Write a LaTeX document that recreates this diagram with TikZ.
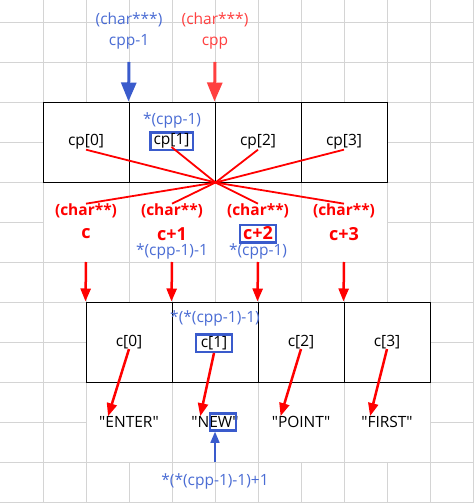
\documentclass[tikz,border=0pt]{standalone}
\usepackage{fontspec}
\setmainfont{Open Sans}
\usetikzlibrary{arrows.meta}
\definecolor{gridgray}{RGB}{212,212,212}
\definecolor{ptrblue}{RGB}{74,108,212}
\definecolor{boxblue}{RGB}{58,91,204}
\definecolor{lightred}{RGB}{255,64,64}

\begin{document}
\begin{tikzpicture}[
      x=1pt, y=-1pt,
      every node/.style={inner sep=0pt, font=\fontsize{15.5}{21}\selectfont},
      gridline/.style={draw=gridgray, line width=0.8pt},
      merged/.style={draw=gridgray, line width=0.8pt, fill=white},
      cell/.style={draw=black, line width=1pt, fill=white, minimum width=86pt, minimum height=80pt},
      bluetext/.style={text=ptrblue},
      redtext/.style={text=red, font=\fontsize{15.5}{21}\selectfont\bfseries},
      valtext/.style={text=red, font=\fontsize{18}{21}\selectfont\bfseries},
      hl/.style={draw=boxblue, line width=2.5pt, minimum height=17.5pt},
      link/.style={draw=red, line width=1.8pt},
      redarrow/.style={draw=red, fill=red, line width=2.5pt, -{Triangle[width=10pt,length=13pt]}},
      bigarrow/.style={line width=3pt, -{Triangle[width=15pt,length=19pt]}},
      blueptr/.style={draw=boxblue, fill=boxblue, line width=1.5pt, -{Triangle[width=9pt,length=11pt]}}
    ]
    \useasboundingbox (0,0) rectangle (474,503);
    \fill[white] (0,0) rectangle (474,503);
    % sheet grid
    \foreach \x in {43,86,...,473} \draw[gridline] (\x,0) -- (\x,503);
    \foreach \y in {22,62,...,502} \draw[gridline] (0,\y) -- (474,\y);
    \foreach \x in {43,129,215,301} \draw[merged] (\x,182) rectangle +(86,80);
    \foreach \x in {86,172,258,344} \draw[merged] (\x,382) rectangle +(86,80);

    % cp array
    \node[cell] (a0) at (86,142) {};
    \node[cell] (a1) at (172,142) {};
    \node[cell] (a2) at (258,142) {};
    \node[cell] (a3) at (344,142) {};
    \node (cp0) at (a0) {cp[0]};
    \node[hl, minimum width=42.5pt] (cp1) at (171.5,141) {cp[1]};
    \node (cp2) at (a2) {cp[2]};
    \node (cp3) at (a3) {cp[3]};
    \node[bluetext] (d1) at (172,120) {*(cpp-1)};

    % pointers into cp
    \node[bluetext, align=center] (cpm1) at (129,31) {(char***)\\cpp-1};
    \node[text=lightred, align=center] (cpp) at (215,31) {(char***)\\cpp};
    \coordinate (q1) at (129,62);
    \coordinate (q2) at (215,62);
    \draw[bigarrow, draw=boxblue, fill=boxblue] (q1) -- (a1.north west);
    \draw[bigarrow, draw=lightred, fill=lightred] (q2) -- (a2.north west);

    % c+i labels
    \node[redtext] (t0) at (86,211) {(char**)};
    \node[redtext] (t1) at (172,211) {(char**)};
    \node[redtext] (t2) at (258,211) {(char**)};
    \node[redtext] (t3) at (344,211) {(char**)};
    \node[valtext] (v0) at (86,234) {c};
    \node[valtext] (v1) at (172,234) {c+1};
    \node[valtext, hl, minimum width=36pt] (v2) at (258,233.5) {c+2};
    \node[valtext] (v3) at (344,234) {c+3};
    \node[bluetext] (e1) at (172,251) {*(cpp-1)-1};
    \node[bluetext] (e2) at (258,251) {*(cpp-1)};
    \foreach \n in {cp0,cp2,cp3} \draw[link] (a1.south east) -- (\n.south);
    \draw[link] (a1.south east) -- ([yshift=4pt]cp1.south);
    \foreach \n in {t0,t1,t2,t3} \draw[link] (a1.south east) -- (\n.north);

    % c array
    \node[cell] (b0) at (129,342) {};
    \node[cell] (b1) at (215,342) {};
    \node[cell] (b2) at (301,342) {};
    \node[cell] (b3) at (387,342) {};
    \node (c0) at (b0) {c[0]};
    \node[hl, minimum width=36pt] (c1) at (214,343) {c[1]};
    \node (c2) at (b2) {c[2]};
    \node (c3) at (b3) {c[3]};
    \node[bluetext] (d2) at (215,318) {*(*(cpp-1)-1)};
    \foreach \i/\x in {0/86,1/172,2/258,3/344} {
      \coordinate (r\i) at (\x,262);
      \draw[redarrow] (r\i) -- (b\i.north west);
    }

    % strings
    \node (s0) at (129,422) {\textquotedbl ENTER\textquotedbl};
    \node (s1) at (215,422) {\textquotedbl NEW\textquotedbl};
    \node (s2) at (301,422) {\textquotedbl POINT\textquotedbl};
    \node (s3) at (387,422) {\textquotedbl FIRST\textquotedbl};
    \foreach \i in {0,1,2,3} \draw[redarrow] (c\i.south) -- ([xshift=9pt]s\i.north west);
    \node[hl, minimum width=26pt, minimum height=17pt] (ew) at (223,422) {};
    \node[bluetext] (p) at (215,481) {*(*(cpp-1)-1)+1};
    \coordinate (ptail) at (215,462);
    \draw[blueptr] (ptail) -- (ptail |- ew.south);
\end{tikzpicture}
\end{document}
